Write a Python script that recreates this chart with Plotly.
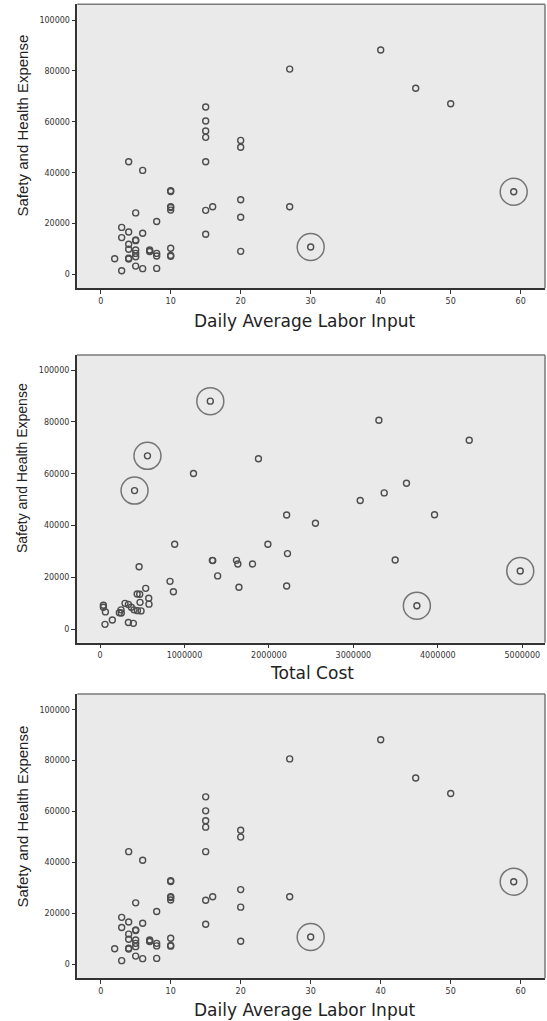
import plotly.graph_objects as go

# ---------------- data ----------------
# Panel 1 / 3: Daily Average Labor Input vs Safety and Health Expense
labor = [40, 27, 45, 50, 15, 15, 15, 15, 20, 20,
         4, 15, 6, 10, 10, 59, 20, 10, 10, 10,
         16, 27, 15, 5, 20, 8, 3, 4, 6, 15,
         3, 5, 5, 4, 4, 5, 7, 7, 10, 5,
         7, 8, 8, 10, 10, 5, 4, 4, 2, 20,
         30, 5, 6, 8, 3]
expense1 = [88200, 80700, 73200, 67100, 65800, 60300, 56400, 53900, 52700, 50000,
            44300, 44300, 40900, 32900, 32600, 32500, 29400, 26600, 26300, 25300,
            26600, 26600, 25200, 24200, 22500, 20800, 18500, 16700, 16200, 15800,
            14500, 13600, 13300, 11900, 9900, 9600, 9600, 9200, 10300, 8300,
            9000, 8300, 7300, 7500, 7200, 7000, 6400, 6100, 6200, 9100,
            10800, 3300, 2300, 2400, 1500]
labor_outliers = [15, 50]          # indices of circled points

# Panel 2: Total Cost vs Safety and Health Expense
total_cost = [3302000, 4372000, 3629000, 3365000, 3081000, 3961000, 2210000, 2551000, 2220000, 2210000,
              3495000, 4976000, 3752000, 1306000, 1876000, 562000, 1107000, 409000, 884000, 1988000,
              1335000, 1330000, 1616000, 1632000, 1806000, 463000, 1393000, 829000, 1645000, 869000,
              541000, 440000, 470000, 577000, 474000, 580000, 296000, 336000, 370000, 403000,
              443000, 486000, 249000, 229000, 252000, 40000, 40000, 64000, 146000, 59000,
              336000, 395000]
expense2 = [80600, 72900, 56300, 52600, 49700, 44200, 44100, 40900, 29200, 16700,
            26700, 22500, 9100, 88000, 65800, 66900, 60100, 53500, 32800, 32800,
            26500, 26600, 26600, 25200, 25200, 24100, 20600, 18500, 16200, 14500,
            15800, 13600, 13500, 12000, 10400, 9700, 10000, 9600, 8500, 7500,
            7200, 7100, 7500, 6400, 6300, 9300, 8500, 6700, 3600, 1900,
            2600, 2300]
cost_outliers = [11, 12, 13, 15, 17]  # indices of circled points

y_ticks = [0, 20000, 40000, 60000, 80000, 100000]
y_ticktext = ["0", "20000", "40000", "60000", "80000", "100000"]
labor_ticks = [0, 10, 20, 30, 40, 50, 60]
cost_ticks = [0, 1000000, 2000000, 3000000, 4000000, 5000000]
cost_ticktext = ["0", "1000000", "2000000", "3000000", "4000000", "5000000"]

y_title = "Safety and Health Expense"
x_title_labor = "Daily Average Labor Input"
x_title_cost = "Total Cost"

# ---------------- figure ----------------
W, H = 547, 1021
fig = go.Figure()

small = dict(mode="markers", hoverinfo="skip",
             marker=dict(symbol="circle-open", size=6, color="#4d4d4d",
                         line=dict(width=1.4, color="#4d4d4d")))
big = dict(mode="markers", hoverinfo="skip",
           marker=dict(symbol="circle-open", size=27, color="#757575",
                       line=dict(width=1.5, color="#757575")))

panels = [
    (labor, expense1, labor_outliers, "x", "y"),
    (total_cost, expense2, cost_outliers, "x2", "y2"),
    (labor, expense1, labor_outliers, "x3", "y3"),
]
for xs, ys, outl, xa, ya in panels:
    fig.add_trace(go.Scatter(x=xs, y=ys, xaxis=xa, yaxis=ya, **small))
    fig.add_trace(go.Scatter(x=[xs[i] for i in outl], y=[ys[i] for i in outl],
                             xaxis=xa, yaxis=ya, **big))

tickfont = dict(family="DejaVu Sans", size=8, color="#333333")

def xaxis(dom, rng, tv, tt, anchor):
    return dict(domain=dom, range=rng, tickvals=tv, ticktext=tt, anchor=anchor,
                ticks="outside", ticklen=4, tickwidth=1, tickcolor="#333333",
                showgrid=False, zeroline=False, showline=True, linecolor="#333333",
                linewidth=1.5, tickfont=tickfont, fixedrange=True)

def yaxis(dom, rng, anchor):
    return dict(domain=dom, range=rng, tickvals=y_ticks, ticktext=y_ticktext, anchor=anchor,
                ticks="outside", ticklen=4, tickwidth=1, tickcolor="#333333",
                showgrid=False, zeroline=False, showline=True, linecolor="#333333",
                linewidth=1.5, tickfont=tickfont, fixedrange=True)

xd = [77.3 / W, 545 / W]
xd2 = [76.7 / W, 545 / W]
def yd(top, bottom):
    return [1 - bottom / H, 1 - top / H]

fig.update_layout(
    width=W, height=H, margin=dict(l=0, r=0, t=0, b=0),
    paper_bgcolor="white", plot_bgcolor="#EAEAEA", showlegend=False,
    xaxis=xaxis(xd, [-3.34, 63.47], labor_ticks, [str(v) for v in labor_ticks], "y"),
    yaxis=yaxis(yd(4.3, 288.3), [-5420, 106170], "x"),
    xaxis2=xaxis(xd2, [-276000, 5269000], cost_ticks, cost_ticktext, "y2"),
    yaxis2=yaxis(yd(355, 642.7), [-5170, 105790], "x2"),
    xaxis3=xaxis(xd, [-3.34, 63.47], labor_ticks, [str(v) for v in labor_ticks], "y3"),
    yaxis3=yaxis(yd(694, 978.3), [-5420, 106170], "x3"),
)

# top and right frame lines
for xa, ya in [("x", "y"), ("x2", "y2"), ("x3", "y3")]:
    fig.add_shape(type="line", xref=f"{xa} domain", yref=f"{ya} domain",
                  x0=0, x1=1, y0=1, y1=1, line=dict(color="#7a7a7a", width=1.5))
    fig.add_shape(type="line", xref=f"{xa} domain", yref=f"{ya} domain",
                  x0=1, x1=1, y0=0, y1=1, line=dict(color="#7a7a7a", width=1.5))

ytfont = dict(family="Liberation Sans", size=15, color="#222222")
xtfont = dict(family="DejaVu Sans", size=17, color="#222222")
for (cx, cy, size) in [(21.5, 126, 15), (22, 468, 14), (21.5, 817, 15)]:
    fig.add_annotation(text=y_title, xref="paper", yref="paper", x=cx / W, y=1 - cy / H,
                       textangle=-90, showarrow=False, xanchor="center", yanchor="middle",
                       font=dict(ytfont, size=size))
for (txt, cx, cy) in [(x_title_labor, 305, 321), (x_title_cost, 312, 673), (x_title_labor, 305, 1010)]:
    fig.add_annotation(text=txt, xref="paper", yref="paper", x=cx / W, y=1 - cy / H,
                       showarrow=False, xanchor="center", yanchor="middle", font=xtfont)

fig.write_html("out.html", config={"displayModeBar": False},
               post_script="document.body.style.margin='0';document.body.style.overflow='hidden';")
